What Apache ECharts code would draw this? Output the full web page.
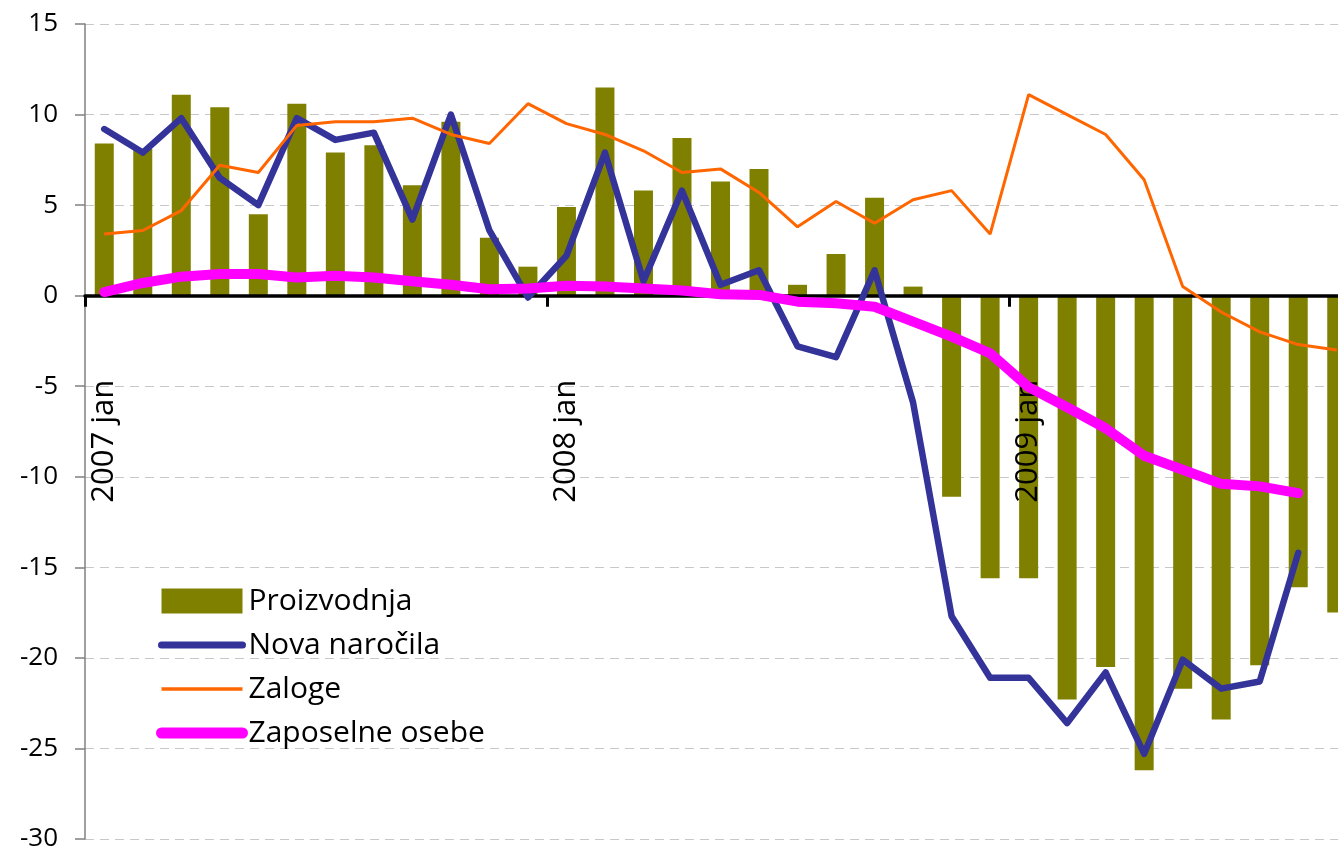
<!DOCTYPE html>
<html>
<head>
<meta charset="utf-8">
<script src="https://cdn.jsdelivr.net/npm/echarts@6/dist/echarts.min.js"></script>
<style>
  html, body { margin: 0; padding: 0; background: #fff; }
  #main { width: 1338px; height: 853px; }
</style>
</head>
<body>
<div id="main"></div>
<script>
// mesečni podatki, 2007 jan - 2009 sep
var years = ['2007', '2008', '2009'];
var months = ['jan', 'feb', 'mar', 'apr', 'maj', 'jun', 'jul', 'avg', 'sep', 'okt', 'nov', 'dec'];

var proizvodnja = [8.4, 8.1, 11.1, 10.4, 4.5, 10.6, 7.9, 8.3, 6.1, 9.6, 3.2, 1.6,
                   4.9, 11.5, 5.8, 8.7, 6.3, 7.0, 0.6, 2.3, 5.4, 0.5, -11.1, -15.6,
                   -15.6, -22.3, -20.5, -26.2, -21.7, -23.4, -20.4, -16.1, -17.5];
var novaNarocila = [9.2, 7.9, 9.8, 6.5, 5.0, 9.8, 8.6, 9.0, 4.2, 10.0, 3.6, -0.1,
                    2.2, 7.9, 0.8, 5.8, 0.6, 1.4, -2.8, -3.4, 1.4, -5.9, -17.7, -21.1,
                    -21.1, -23.6, -20.8, -25.3, -20.1, -21.7, -21.3, -14.2];
var zaloge = [3.4, 3.6, 4.7, 7.2, 6.8, 9.4, 9.6, 9.6, 9.8, 8.9, 8.4, 10.6,
              9.5, 8.9, 8.0, 6.8, 7.0, 5.7, 3.8, 5.2, 4.0, 5.3, 5.8, 3.4,
              11.1, 10.0, 8.9, 6.4, 0.5, -0.9, -2.0, -2.7, -3.0];
var zaposlene = [0.2, 0.7, 1.05, 1.2, 1.2, 1.0, 1.1, 1.0, 0.8, 0.6, 0.35, 0.4,
                 0.55, 0.5, 0.4, 0.28, 0.08, 0.04, -0.33, -0.42, -0.61, -1.43, -2.26, -3.18,
                 -5.05, -6.16, -7.32, -8.84, -9.61, -10.39, -10.53, -10.9];

var yMin = -30, yMax = 15, yStep = 5;

var categories = [];
for (var i = 0; i < proizvodnja.length; i++) {
    categories.push(years[Math.floor(i / 12)] + ' ' + months[i % 12]);
}

var font = '"Open Sans", sans-serif';
var gridTop = 24, gridBottom = 14;
var gridH = 853 - gridTop - gridBottom;
// x os postavimo na vrednost 0
var zeroOffset = -gridH * (0 - yMin) / (yMax - yMin);

var myChart = echarts.init(document.getElementById('main'));
var option = {
    animation: false,
    backgroundColor: '#ffffff',
    textStyle: { fontFamily: font, color: '#000' },
    grid: { left: 85, right: -18, top: gridTop, bottom: gridBottom, containLabel: false, outerBoundsMode: 'none' },
    legend: {
        orient: 'vertical',
        left: 156,
        top: 586,
        padding: 0,
        itemWidth: 81,
        itemHeight: 25,
        itemGap: 14,
        textStyle: { fontFamily: font, fontSize: 30, color: '#000', padding: [0, 0, 0, 1] },
        data: [
            { name: 'Proizvodnja', icon: 'rect' },
            { name: 'Nova naročila', itemStyle: { opacity: 0 }, lineStyle: { width: 7, cap: 'round' } },
            { name: 'Zaloge', itemStyle: { opacity: 0 }, lineStyle: { width: 3.5 } },
            { name: 'Zaposelne osebe', itemStyle: { opacity: 0 }, lineStyle: { width: 11, cap: 'round' } }
        ]
    },
    xAxis: {
        type: 'category',
        data: categories,
        boundaryGap: true,
        offset: zeroOffset,
        z: 3,
        axisLine: { onZero: false, lineStyle: { color: '#000', width: 3.5 } },
        axisTick: { show: true, interval: 11, length: 11, lineStyle: { color: '#000', width: 3 } },
        axisLabel: {
            show: true,
            interval: 11,
            rotate: 90,
            margin: 84,
            fontFamily: font,
            fontSize: 31,
            color: '#000'
        },
        splitLine: { show: false }
    },
    yAxis: {
        type: 'value',
        min: yMin,
        max: yMax,
        interval: yStep,
        axisLine: { show: true, lineStyle: { color: '#808080', width: 1.5 } },
        axisTick: { show: true, length: 10, lineStyle: { color: '#808080', width: 1.5 } },
        axisLabel: { fontFamily: font, fontSize: 26, color: '#000', margin: 27 },
        splitLine: { show: true, lineStyle: { color: '#c8c8c8', width: 1.2, type: [9, 6] } }
    },
    series: [
        {
            name: 'Proizvodnja',
            type: 'bar',
            data: proizvodnja,
            barWidth: 19,
            itemStyle: { color: '#808000' }
        },
        {
            name: 'Nova naročila',
            type: 'line',
            z: 4,
            data: novaNarocila,
            symbol: 'none',
            lineStyle: { color: '#333399', width: 6.5, join: 'round', cap: 'round' },
            itemStyle: { color: '#333399' }
        },
        {
            name: 'Zaloge',
            type: 'line',
            z: 4,
            data: zaloge,
            symbol: 'none',
            lineStyle: { color: '#ff6600', width: 3 },
            itemStyle: { color: '#ff6600' }
        },
        {
            name: 'Zaposelne osebe',
            type: 'line',
            z: 4,
            data: zaposlene,
            symbol: 'none',
            lineStyle: { color: '#ff00ff', width: 10, join: 'round', cap: 'round' },
            itemStyle: { color: '#ff00ff' }
        }
    ]
};
myChart.setOption(option);
</script>
</body>
</html>
